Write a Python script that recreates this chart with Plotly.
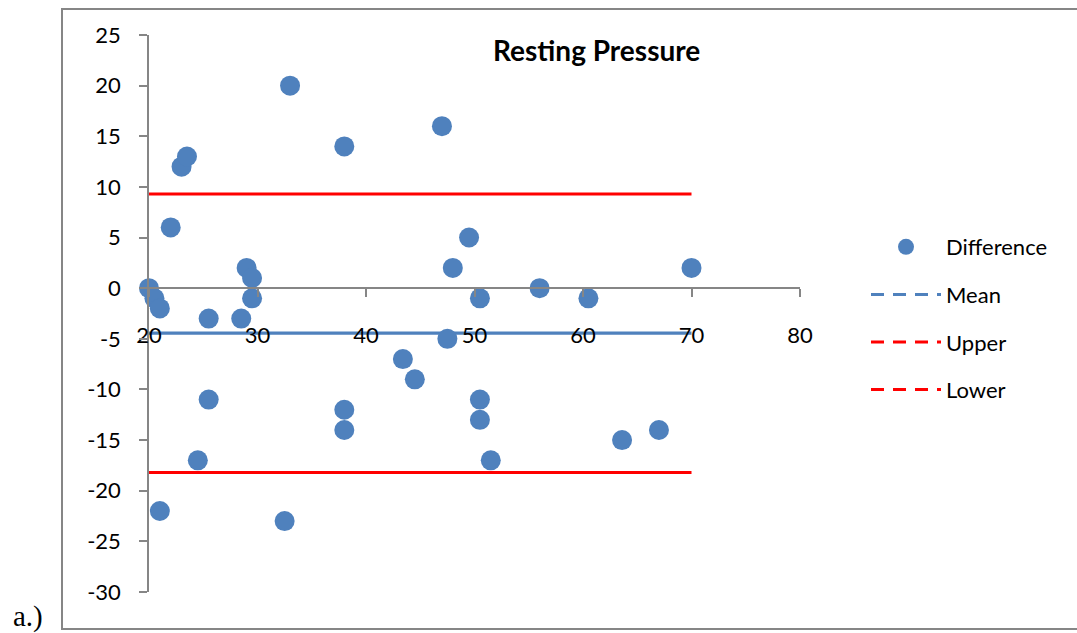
import plotly.graph_objects as go

# Bland-Altman style data: average of the two methods vs. their difference
avg_values = [20.0, 20.5, 21.0, 22.0, 23.0, 23.5, 24.5, 25.5, 25.5, 21.0,
              28.5, 29.0, 29.5, 29.5, 32.5, 33.0, 38.0, 38.0, 38.0, 43.4,
              44.5, 47.0, 47.5, 48.0, 49.5, 50.5, 50.5, 50.5, 51.5, 56.0,
              60.5, 63.6, 67.0, 70.0]
diff_values = [0, -1, -2, 6, 12, 13, -17, -3, -11, -22,
               -3, 2, 1, -1, -23, 20, 14, -12, -14, -7,
               -9, 16, -5, 2, 5, -1, -11, -13, -17, 0,
               -1, -15, -14, 2]

# Agreement lines (mean difference and limits of agreement)
line_x = [20, 70]
mean_diff = -4.44
upper_loa = 9.3
lower_loa = -18.2

x_ticks = [20, 30, 40, 50, 60, 70, 80]
y_ticks = [25, 20, 15, 10, 5, 0, -5, -10, -15, -20, -25, -30]

BLUE = "#4F81BD"
RED = "#FF0000"
AXIS = "#868686"
FONT = "Lato"

fig = go.Figure()

# Plotted lines (solid strokes in the plot area)
fig.add_trace(go.Scatter(x=line_x, y=[mean_diff] * 2, mode="lines",
                         line=dict(color=BLUE, width=3.2), showlegend=False,
                         hoverinfo="skip", cliponaxis=False))
fig.add_trace(go.Scatter(x=line_x, y=[upper_loa] * 2, mode="lines",
                         line=dict(color=RED, width=3.2), showlegend=False,
                         hoverinfo="skip", cliponaxis=False))
fig.add_trace(go.Scatter(x=line_x, y=[lower_loa] * 2, mode="lines",
                         line=dict(color=RED, width=3.2), showlegend=False,
                         hoverinfo="skip", cliponaxis=False))

# Difference points
fig.add_trace(go.Scatter(x=avg_values, y=diff_values, mode="markers",
                         name="Difference", legendgroup="d", cliponaxis=False,
                         marker=dict(color=BLUE, size=20)))

# Legend entries with dashed symbols
for name, color, grp in [("Mean", BLUE, "m"), ("Upper", RED, "u"), ("Lower", RED, "l")]:
    fig.add_trace(go.Scatter(x=[None], y=[None], mode="lines", name=name,
                             legendgroup=grp,
                             line=dict(color=color, width=3, dash="13px,9px")))

W, H = 1077, 633
L, R, T, B = 149, 277, 35, 41
pw = W - L - R
ph = H - T - B


def px_x(p):
    return (p - L) / pw


def px_y(p):
    return (H - B - p) / ph


fig.update_layout(
    width=W, height=H,
    margin=dict(l=L, r=R, t=T, b=B),
    paper_bgcolor="white", plot_bgcolor="white",
    font=dict(family=FONT, size=22, color="black"),
    showlegend=True,
    legend=dict(x=px_x(866), y=px_y(226), xanchor="left", yanchor="top",
                font=dict(family=FONT, size=22, color="black"),
                tracegroupgap=16, itemwidth=70, bgcolor="rgba(0,0,0,0)"),
    xaxis=dict(range=[20, 80], tickvals=x_ticks, ticktext=[str(v) for v in x_ticks],
               showgrid=False, zeroline=False, showline=True, linecolor=AXIS,
               linewidth=1.5, ticks="outside", ticklen=8, tickcolor=AXIS,
               tickwidth=1.5, anchor="free", position=30 / 55,
               ticklabelstandoff=20, tickfont=dict(family=FONT, size=22)),
    yaxis=dict(range=[-30, 25], tickvals=y_ticks, ticktext=[str(v) for v in y_ticks],
               showgrid=False, zeroline=False, showline=True, linecolor=AXIS,
               linewidth=1.5, ticks="outside", ticklen=8, tickcolor=AXIS,
               tickwidth=1.5, ticklabelstandoff=14,
               tickfont=dict(family=FONT, size=22)),
    annotations=[
        dict(text="<b>Resting Pressure</b>", xref="paper", yref="paper",
             x=px_x(596), y=px_y(50), xanchor="center", yanchor="middle",
             showarrow=False, font=dict(family=FONT, size=28, color="black")),
        dict(text="a.)", xref="paper", yref="paper",
             x=px_x(11), y=px_y(616), xanchor="left", yanchor="middle",
             showarrow=False,
             font=dict(family="Liberation Serif", size=29, color="black")),
    ],
    shapes=[
        dict(type="rect", xref="paper", yref="paper",
             x0=px_x(62), x1=px_x(1100), y0=px_y(629), y1=px_y(9),
             line=dict(color=AXIS, width=2), fillcolor="rgba(0,0,0,0)",
             layer="below"),
    ],
)

fig.write_html("out.html")
